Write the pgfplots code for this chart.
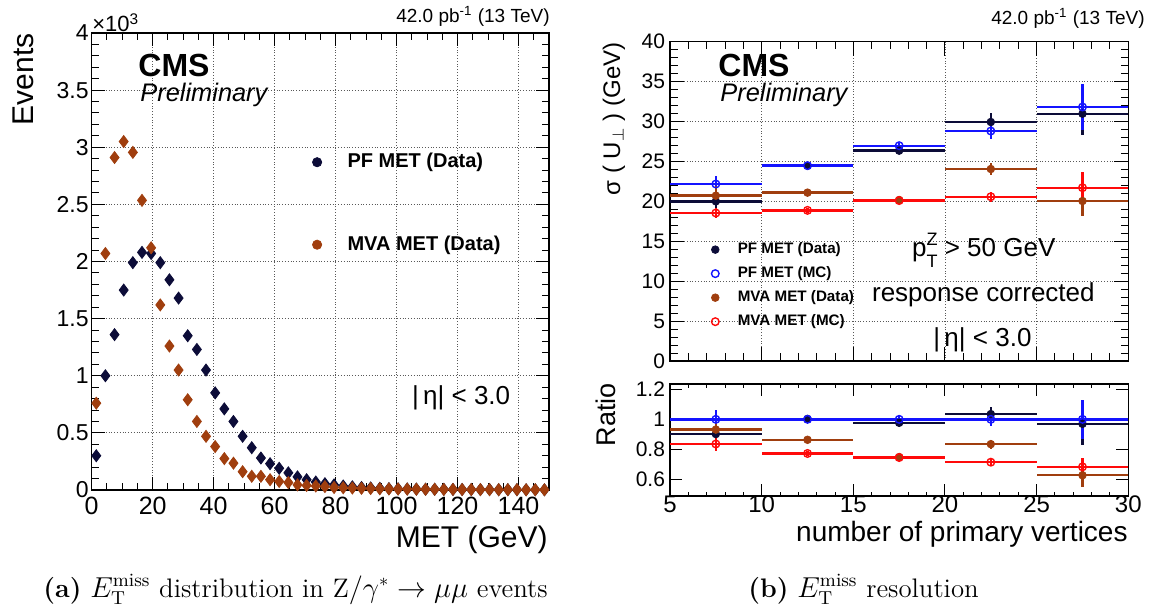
\documentclass[border=0pt]{standalone}
\usepackage{pgfplots}
\pgfplotsset{compat=1.18}
\usepackage{pgfplotstable}
\usepackage{fontspec}
\newfontfamily\hv{Liberation Sans}
\newcommand\fs[1]{\fontsize{#1}{#1}\selectfont}

\definecolor{pfdata}{RGB}{12,12,56}
\definecolor{pfmc}{RGB}{20,20,255}
\definecolor{mvadata}{RGB}{160,62,14}
\definecolor{mvamc}{RGB}{255,10,10}

% MET spectra, 3 GeV bins, events in units of 10^3
\pgfplotstableread{
x y
1.5 0.30
4.5 1.00
7.5 1.36
10.5 1.75
13.5 1.99
16.5 2.08
19.5 2.07
22.5 1.99
25.5 1.84
28.5 1.68
31.5 1.35
34.5 1.23
37.5 1.05
40.5 0.85
43.5 0.71
46.5 0.60
49.5 0.47
52.5 0.37
55.5 0.28
58.5 0.23
61.5 0.19
64.5 0.15
67.5 0.115
70.5 0.09
73.5 0.07
76.5 0.055
79.5 0.045
82.5 0.035
85.5 0.028
88.5 0.022
91.5 0.018
94.5 0.015
97.5 0.012
100.5 0.010
103.5 0.009
106.5 0.008
109.5 0.007
112.5 0.006
115.5 0.006
118.5 0.005
121.5 0.005
124.5 0.004
127.5 0.004
130.5 0.004
133.5 0.003
136.5 0.003
139.5 0.003
142.5 0.002
145.5 0.002
148.5 0.002
}\pfmet

\pgfplotstableread{
x y
1.5 0.76
4.5 2.07
7.5 2.91
10.5 3.05
13.5 2.955
16.5 2.535
19.5 2.12
22.5 1.62
25.5 1.26
28.5 1.05
31.5 0.79
34.5 0.60
37.5 0.47
40.5 0.38
43.5 0.275
46.5 0.235
49.5 0.16
52.5 0.12
55.5 0.12
58.5 0.09
61.5 0.075
64.5 0.065
67.5 0.045
70.5 0.04
73.5 0.035
76.5 0.03
79.5 0.022
82.5 0.02
85.5 0.017
88.5 0.015
91.5 0.013
94.5 0.011
97.5 0.010
100.5 0.009
103.5 0.008
106.5 0.007
109.5 0.006
112.5 0.006
115.5 0.005
118.5 0.005
121.5 0.004
124.5 0.004
127.5 0.004
130.5 0.003
133.5 0.003
136.5 0.003
139.5 0.003
142.5 0.002
145.5 0.002
148.5 0.002
}\mvamet

% resolution sigma(U_perp) in GeV per NPV bin
\pgfplotstableread{
x ex y ey
7.5 2.5 20.00 0.9
12.5 2.5 24.47 0.4
17.5 2.5 26.35 0.45
22.5 2.5 29.94 1.1
27.5 2.5 30.98 2.7
}\respfdata
\pgfplotstableread{
x ex y ey
7.5 2.5 22.17 1.0
12.5 2.5 24.47 0.4
17.5 2.5 26.97 0.4
22.5 2.5 28.81 1.0
27.5 2.5 31.82 2.9
}\respfmc
\pgfplotstableread{
x ex y ey
7.5 2.5 20.71 1.2
12.5 2.5 21.09 0.4
17.5 2.5 20.17 0.4
22.5 2.5 24.05 0.8
27.5 2.5 20.04 1.9
}\resmvadata
\pgfplotstableread{
x ex y ey
7.5 2.5 18.54 0.6
12.5 2.5 18.87 0.3
17.5 2.5 20.10 0.3
22.5 2.5 20.58 0.6
27.5 2.5 21.71 2.0
}\resmvamc

% ratios to PF MET (MC)
\pgfplotstableread{
x ex y ey
7.5 2.5 0.902 0.05
12.5 2.5 1.003 0.02
17.5 2.5 0.977 0.02
22.5 2.5 1.035 0.05
27.5 2.5 0.970 0.14
}\ratpfdata
\pgfplotstableread{
x ex y ey
7.5 2.5 1.0 0.06
12.5 2.5 1.0 0.02
17.5 2.5 1.0 0.02
22.5 2.5 1.0 0.045
27.5 2.5 1.0 0.13
}\ratpfmc
\pgfplotstableread{
x ex y ey
7.5 2.5 0.932 0.05
12.5 2.5 0.864 0.02
17.5 2.5 0.749 0.02
22.5 2.5 0.835 0.03
27.5 2.5 0.628 0.075
}\ratmvadata
\pgfplotstableread{
x ex y ey
7.5 2.5 0.836 0.045
12.5 2.5 0.773 0.015
17.5 2.5 0.746 0.015
22.5 2.5 0.715 0.02
27.5 2.5 0.684 0.06
}\ratmvamc

\pgfplotsset{
  rootframe/.style={
    scale only axis, tick align=inside,
    axis line style={line width=0.6pt},
    every tick/.style={black, line width=0.5pt},
    major grid style={densely dotted, black!65, line width=0.4pt},
    /pgf/number format/assume math mode=true,
  },
  binpts/.style={
    only marks, mark=*, mark size=1.9pt, color=#1,
    error bars/x dir=both, error bars/x explicit,
    error bars/y dir=both, error bars/y explicit,
    error bars/error mark=none,
    error bars/error bar style={line width=1.2pt, #1},
  },
  binopen/.style={
    binpts=#1, mark=o, mark options={line width=0.7pt, fill=white},
  },
}

\begin{document}
\begin{tikzpicture}
\path[use as bounding box] (0,0) rectangle (577pt,303pt);

% ---------------- MET distribution ----------------
\begin{axis}[rootframe,
  at={(45.85pt,58pt)}, anchor=south west,
  width=228.65pt, height=228.5pt,
  xmin=0, xmax=150, ymin=0, ymax=4,
  xtick={0,20,...,140}, minor xtick={0,5,...,150},
  ytick={0,0.5,1,1.5,2,2.5,3,3.5,4},
  yticklabels={0,0.5,1,1.5,2,2.5,3,3.5,4},
  minor ytick={0.1,0.2,...,3.95},
  major tick length=6.5pt, minor tick length=3.5pt,
  grid=major,
  x tick label style={font=\hv\fs{12.5}},
  y tick label style={font=\hv\fs{11.5}, xshift=2pt},
  legend style={at={(0.468,0.627)}, anchor=west, draw=none, fill=none,
    font=\hv\bfseries\fs{10}, row sep=32.5pt, column sep=12.7pt,
    nodes={inner sep=0pt}},
  legend cell align=left,
]
\addplot[only marks, mark=diamond*, mark size=3pt, color=pfdata, forget plot] table {\pfmet};
\addplot[only marks, mark=diamond*, mark size=3pt, color=mvadata, forget plot] table {\mvamet};
\addlegendimage{legend image code/.code={\fill[pfdata] (0pt,0pt) circle (2.3pt);}}
\addlegendentry{PF MET (Data)}
\addlegendimage{legend image code/.code={\fill[mvadata] (0pt,0pt) circle (2.3pt);}}
\addlegendentry{MVA MET (Data)}
\end{axis}

% ---------------- resolution vs NPV ----------------
\begin{axis}[rootframe,
  at={(335pt,122.5pt)}, anchor=south west,
  width=229.15pt, height=159.65pt,
  xmin=5, xmax=30, ymin=0, ymax=40,
  xtick={5,10,...,30}, xticklabels={}, minor xtick={5,6,...,30},
  ytick={0,5,...,40}, minor ytick={0,1,...,40},
  major tick length=7pt, minor tick length=3.8pt,
  grid=major,
  y tick label style={font=\hv\fs{10.5}, xshift=1pt},
  legend style={at={(0.075,0.236)}, anchor=west, draw=none, fill=none,
    font=\hv\bfseries\fs{7.6}, row sep=5pt, column sep=9pt,
    nodes={inner sep=0pt}},
  legend cell align=left,
]
\addplot[binpts=pfdata, forget plot] table[x=x, y=y, x error=ex, y error=ey] {\respfdata};
\addplot[binopen=pfmc, forget plot] table[x=x, y=y, x error=ex, y error=ey] {\respfmc};
\addplot[binpts=mvadata, forget plot] table[x=x, y=y, x error=ex, y error=ey] {\resmvadata};
\addplot[binopen=mvamc, forget plot] table[x=x, y=y, x error=ex, y error=ey] {\resmvamc};
\addlegendimage{legend image code/.code={\fill[pfdata] (0pt,0pt) circle (1.9pt);}}
\addlegendentry{PF MET (Data)}
\addlegendimage{legend image code/.code={\draw[pfmc, line width=0.7pt] (0pt,0pt) circle (1.9pt);}}
\addlegendentry{PF MET (MC)}
\addlegendimage{legend image code/.code={\fill[mvadata] (0pt,0pt) circle (1.9pt);}}
\addlegendentry{MVA MET (Data)}
\addlegendimage{legend image code/.code={\draw[mvamc, line width=0.7pt] (0pt,0pt) circle (1.9pt);}}
\addlegendentry{MVA MET (MC)}
\end{axis}

% ---------------- ratio panel ----------------
\begin{axis}[rootframe,
  at={(335pt,55pt)}, anchor=south west,
  width=229.15pt, height=56pt,
  xmin=5, xmax=30, ymin=0.49, ymax=1.235,
  xtick={5,10,...,30}, minor xtick={5,6,...,30},
  ytick={0.6,0.8,1,1.2}, yticklabels={0.6,0.8,1,1.2},
  major tick length=6pt, minor tick length=2.2pt,
  x tick label style={font=\hv\fs{12}, yshift=3.5pt},
  y tick label style={font=\hv\fs{10.5}, xshift=1pt},
]
\addplot[densely dashed, black!60, line width=0.5pt, forget plot] coordinates {(5,1) (30,1)};
\addplot[binpts=pfdata] table[x=x, y=y, x error=ex, y error=ey] {\ratpfdata};
\addplot[binopen=pfmc] table[x=x, y=y, x error=ex, y error=ey] {\ratpfmc};
\addplot[binpts=mvadata] table[x=x, y=y, x error=ex, y error=ey] {\ratmvadata};
\addplot[binopen=mvamc] table[x=x, y=y, x error=ex, y error=ey] {\ratmvamc};
\end{axis}

% ---------------- labels and captions ----------------
\begin{scope}[shift={(0pt,303pt)}, x=0.5pt, y=-0.5pt]
  % left panel
  \node[anchor=base west, inner sep=0pt, font=\hv\fs{11}] at (92,32) {×10\textsuperscript{3}};
  \node[anchor=base east, inner sep=0pt, font=\hv\fs{9.5}] at (550,22.7) {42.0 pb\textsuperscript{-1} (13 TeV)};
  \node[anchor=base west, inner sep=0pt, font=\hv\bfseries\fs{16}] at (138,77) {CMS};
  \node[anchor=base west, inner sep=0pt, font=\hv\itshape\fs{12.7}] at (140,102) {Preliminary};
  \node[anchor=base west, inner sep=0pt, font=\hv\fs{13}] at (411.7,404) {|\,η| < 3.0};
  \node[anchor=base east, inner sep=0pt, rotate=90, font=\hv\fs{15}] at (33,33) {Events};
  \node[anchor=base east, inner sep=0pt, font=\hv\fs{15}] at (548,547) {MET (GeV)};
  \node[anchor=base west, inner sep=0pt, font=\fs{13.4}] at (43,597)
    {\textbf{(a)} $E_{\mathrm{T}}^{\mathrm{miss}}$ distribution in $\mathrm{Z}/\gamma^{*}\rightarrow\mu\mu$ events};
  % right panel
  \node[anchor=base east, inner sep=0pt, font=\hv\fs{9.5}] at (1145,25) {42.0 pb\textsuperscript{-1} (13 TeV)};
  \node[anchor=base west, inner sep=0pt, font=\hv\bfseries\fs{16}] at (718,77) {CMS};
  \node[anchor=base west, inner sep=0pt, font=\hv\itshape\fs{12.7}] at (720,102) {Preliminary};
  \node[anchor=base east, inner sep=0pt, rotate=90, font=\hv\fs{12}] at (620,42)
    {σ ( U$_{\perp}$ ) (GeV)};
  \node[anchor=base east, inner sep=0pt, rotate=90, font=\hv\fs{13.5}] at (615,383) {Ratio};
  \node[anchor=base east, inner sep=0pt, font=\hv\fs{14}] at (1128,541) {number of primary vertices};
  \node[anchor=base west, inner sep=0pt, font=\hv\fs{13}] at (911.7,256.7)
    {p\makebox[0pt][l]{\raisebox{0.85ex}{\fs{9}Z}}\raisebox{-0.75ex}{\fs{9}T} > 50 GeV};
  \node[anchor=base west, inner sep=0pt, font=\hv\fs{13}] at (871.7,301.7) {response corrected};
  \node[anchor=base west, inner sep=0pt, font=\hv\fs{13}] at (933,346.7) {|\,η| < 3.0};
  \node[anchor=base west, inner sep=0pt, font=\fs{13.4}] at (748,597)
    {\textbf{(b)} $E_{\mathrm{T}}^{\mathrm{miss}}$ resolution};
\end{scope}
\end{tikzpicture}
\end{document}
